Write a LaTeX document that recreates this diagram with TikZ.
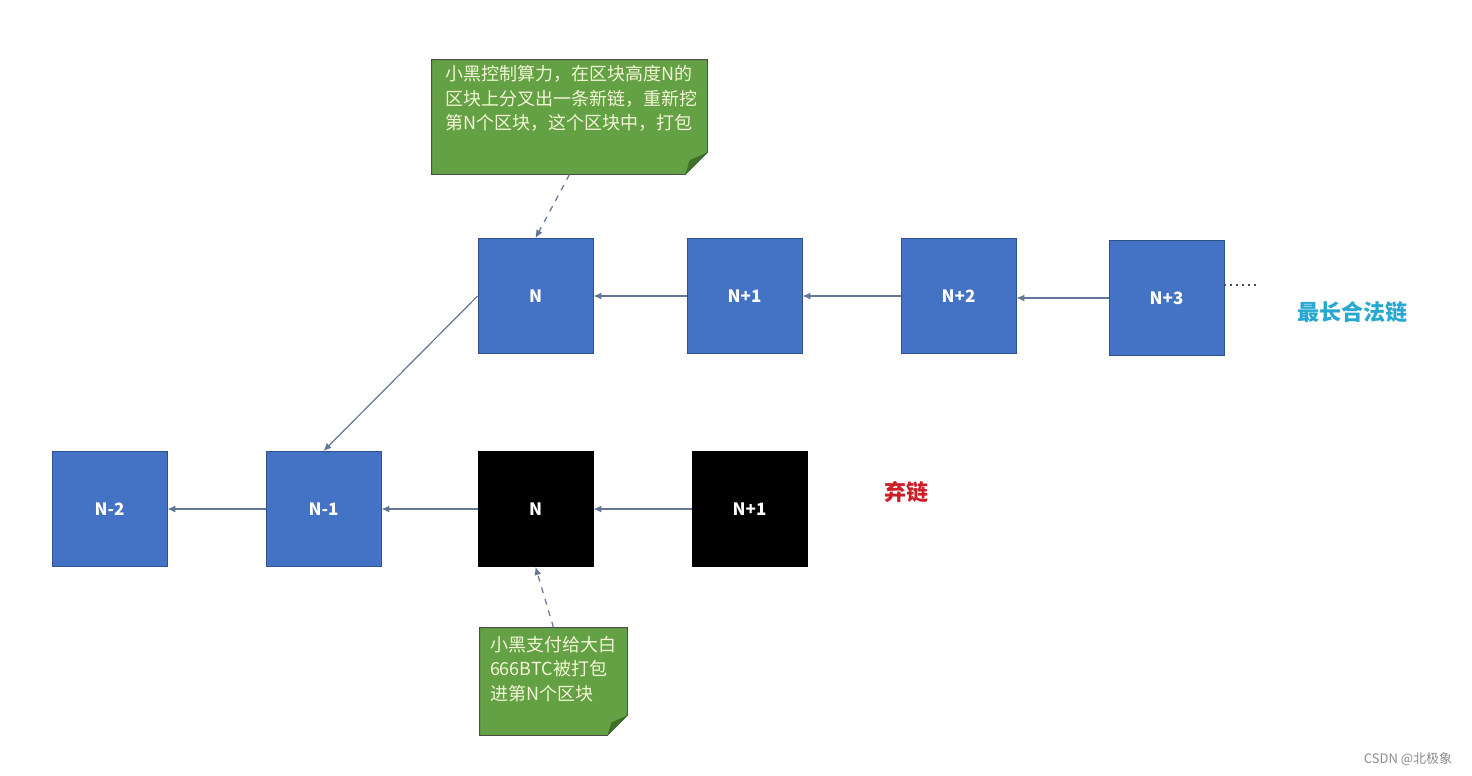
\documentclass[tikz,border=0pt]{standalone}
\usepackage{fontspec}
\setmainfont{Noto Sans CJK SC}
\usetikzlibrary{arrows.meta,calc}
\definecolor{blockblue}{RGB}{68,114,196}
\definecolor{blockedge}{RGB}{47,82,143}
\definecolor{notegreen}{RGB}{100,160,68}
\definecolor{notefold}{RGB}{62,112,40}
\definecolor{notetext}{RGB}{242,246,214}
\definecolor{linkgray}{RGB}{100,118,148}
\definecolor{chaincyan}{RGB}{40,168,208}
\definecolor{chainred}{RGB}{204,30,40}
\begin{document}
\begin{tikzpicture}
            [x=0.5pt,y=-0.5pt,
             Block/.style={rectangle,fill=blockblue,draw=blockedge,thin,minimum size=57.5pt,inner sep=0pt,
                           text=white,font=\fontsize{8.5}{10}\selectfont\bfseries},
             Dead/.style={Block,fill=black,draw=black},
             Note/.style={rectangle,minimum width=#1,inner sep=0pt},
             NoteText/.style={anchor=north west,align=left,inner sep=0pt,text=notetext,
                              font=\fontsize{9}{12.4}\selectfont},
             Link/.style={draw=linkgray,line width=0.6pt,-{Latex[length=4pt,width=3.5pt]}}]
            \useasboundingbox (0,0) rectangle (1472,776);
            \node[Block] (nN) at (535.5,296){N};
            \node[Block] (nN1) at (744.5,296){N+1};
            \node[Block] (nN2) at (958.5,296){N+2};
            \node[Block] (nN3) at (1166.5,298){N+3};
            \node[Block] (nM2) at (109.5,509){N-2};
            \node[Block] (nM1) at (323.5,509){N-1};
            \node[Dead] (fN) at (535.5,509){N};
            \node[Dead] (fN1) at (749.5,509){N+1};
            \coordinate (more) at (1258,285);
            \node[Note=137.5pt,minimum height=57pt] (note1) at (569.5,117){};
            \node[Note=73.5pt,minimum height=53.5pt] (note2) at (553.5,681.5){};
            \foreach \n/\c in {note1/22,note2/20}{
                \filldraw[fill=notegreen,draw=black!70,thin] (\n.north west) -- (\n.north east)
                    -- ($(\n.south east)+(0,-\c)$) -- ($(\n.south east)+(-\c,0)$) -- (\n.south west) -- cycle;
                \fill[notefold] ($(\n.south east)+(0,-\c)$) -- ($(\n.south east)+(-\c,0)$)
                    -- ($(\n.south east)+(-0.8*\c,-0.65*\c)$) -- cycle;
            }
            \node[NoteText] (text1) at ($(note1.north west)+(13,5)$)
                {小黑控制算力，在区块高度N的\\区块上分叉出一条新链，重新挖\\第N个区块，这个区块中，打包};
            \node[NoteText] (text2) at ($(note2.north west)+(10,8)$)
                {小黑支付给大白\\666BTC被打包\\进第N个区块};
            \node[text=chaincyan,font=\fontsize{11}{13}\selectfont\bfseries] (best) at (1352,312){最长合法链};
            \node[text=chainred,font=\fontsize{11}{13}\selectfont\bfseries] (drop) at (906,492){弃链};
            \node[text=black!45,font=\fontsize{6.5}{8}\selectfont] (mark) at (1408,759){CSDN @北极象};
            \draw[Link](nN1) to (nN);
            \draw[Link](nN2) to (nN1);
            \draw[Link](nN3.west) to (nN3.west -| nN2.east);
            \draw[Link](nN.west) to (nM1.north);
            \draw[Link](nM1) to (nM2);
            \draw[Link](fN) to (nM1);
            \draw[Link](fN1) to (fN);
            \draw[Link,dashed](note1.south) to (nN.north);
            \draw[Link,dashed](note2.north) to (fN.south);
            \draw[black!70,line width=1pt,dotted](nN3.east |- more) to (more);
        \end{tikzpicture}
\end{document}
